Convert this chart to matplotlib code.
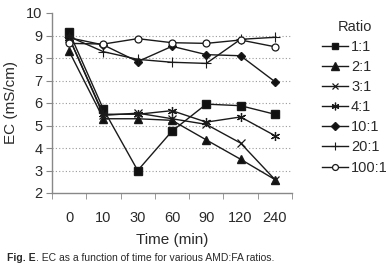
"""EC over time for several AMD:FA ratios."""

import numpy as np
import matplotlib.pyplot as plt

plt.rcParams['font.family'] = ['Liberation Sans', 'DejaVu Sans']
plt.rcParams['text.color'] = "#2a2a2a"
plt.rcParams['axes.labelcolor'] = "#2a2a2a"
plt.rcParams['xtick.labelcolor'] = "#2a2a2a"
plt.rcParams['ytick.labelcolor'] = "#2a2a2a"

times = ["0", "10", "30", "60", "90", "120", "240"]

ratio_labels = ["1:1", "2:1", "3:1", "4:1", "10:1", "20:1", "100:1"]
ec_1_1 = [9.15, 5.72, 3.0, 4.75, 5.95, 5.88, 5.5]
ec_2_1 = [8.3, 5.3, 5.3, 5.23, 4.36, 3.5, 2.6]
ec_3_1 = [8.9, 5.45, 5.55, 5.3, 5.05, 4.22, 2.6]
ec_4_1 = [8.9, 5.5, 5.5, 5.66, 5.15, 5.38, 4.55]
ec_10_1 = [8.9, 8.58, 7.84, 8.52, 8.15, 8.1, 6.95]
ec_20_1 = [8.95, 8.28, 7.94, 7.81, 7.76, 8.83, 8.92]
ec_100_1 = [8.65, 8.62, 8.86, 8.68, 8.65, 8.8, 8.5]

series = [ec_1_1, ec_2_1, ec_3_1, ec_4_1, ec_10_1, ec_20_1, ec_100_1]
styles = [
    dict(marker="s", ms=5.5, mfc="#111111"),
    dict(marker="^", ms=6, mfc="#111111"),
    dict(marker="x", ms=5.5, mew=0.9),
    dict(marker=(6, 2, 0), ms=6.5, mew=0.9),
    dict(marker="D", ms=4.5, mfc="#111111"),
    dict(marker="+", ms=7.5, mew=0.8),
    dict(marker="o", ms=5, mfc="white", mew=0.9),
]

fig = plt.figure(figsize=(3.91, 2.67), dpi=100)
ax = fig.add_axes([52 / 391, 1 - 193 / 267, 240 / 391, 180 / 267])

x = np.arange(len(times))
for vals, label, st in zip(series, ratio_labels, styles):
    ax.plot(x, vals, color="#1a1a1a", lw=1.0, mec="#1a1a1a", label=label, **st)

ax.set_xlim(-0.5, len(times) - 0.5)
ax.set_ylim(2, 10)
ax.set_yticks(range(2, 11))
for yv in range(3, 10):
    ax.axhline(yv, color="#9a9a9a", lw=0.8, ls=(0, (1, 2)), zorder=0)

ax.set_xticks(x)
ax.set_xticklabels(times)
ax.set_xticks(np.arange(-0.5, len(times)), minor=True)
ax.tick_params(axis="x", which="major", length=0, pad=13, labelsize=10.5)
ax.tick_params(axis="x", which="minor", length=4, color="#888888", direction="out")
ax.tick_params(axis="y", length=4, color="#888888", labelsize=10.5, pad=3)

for side in ("top", "right"):
    ax.spines[side].set_visible(False)
for side in ("left", "bottom"):
    ax.spines[side].set_color("#888888")
    ax.spines[side].set_linewidth(1.0)

ax.set_xlabel("Time (min)", fontsize=11, labelpad=6)
ax.set_ylabel("EC (mS/cm)", fontsize=11, labelpad=6)

leg = ax.legend(title="Ratio", loc="upper left", bbox_to_anchor=(1.10, 0.995),
                frameon=False, fontsize=10.5, title_fontsize=10.5,
                handlelength=1.8, handletextpad=0.2, labelspacing=0.42,
                borderaxespad=0, markerscale=0.85)

cap = fig.text(0.018, 0.022, "Fig. E", fontsize=7.5, fontweight="bold")
fig.canvas.draw()
ax.annotate(". EC as a function of time for various AMD:FA ratios.",
            xy=(1, 0), xycoords=cap, va="bottom", ha="left", fontsize=7.5)

fig.savefig("out.png", dpi=100)
